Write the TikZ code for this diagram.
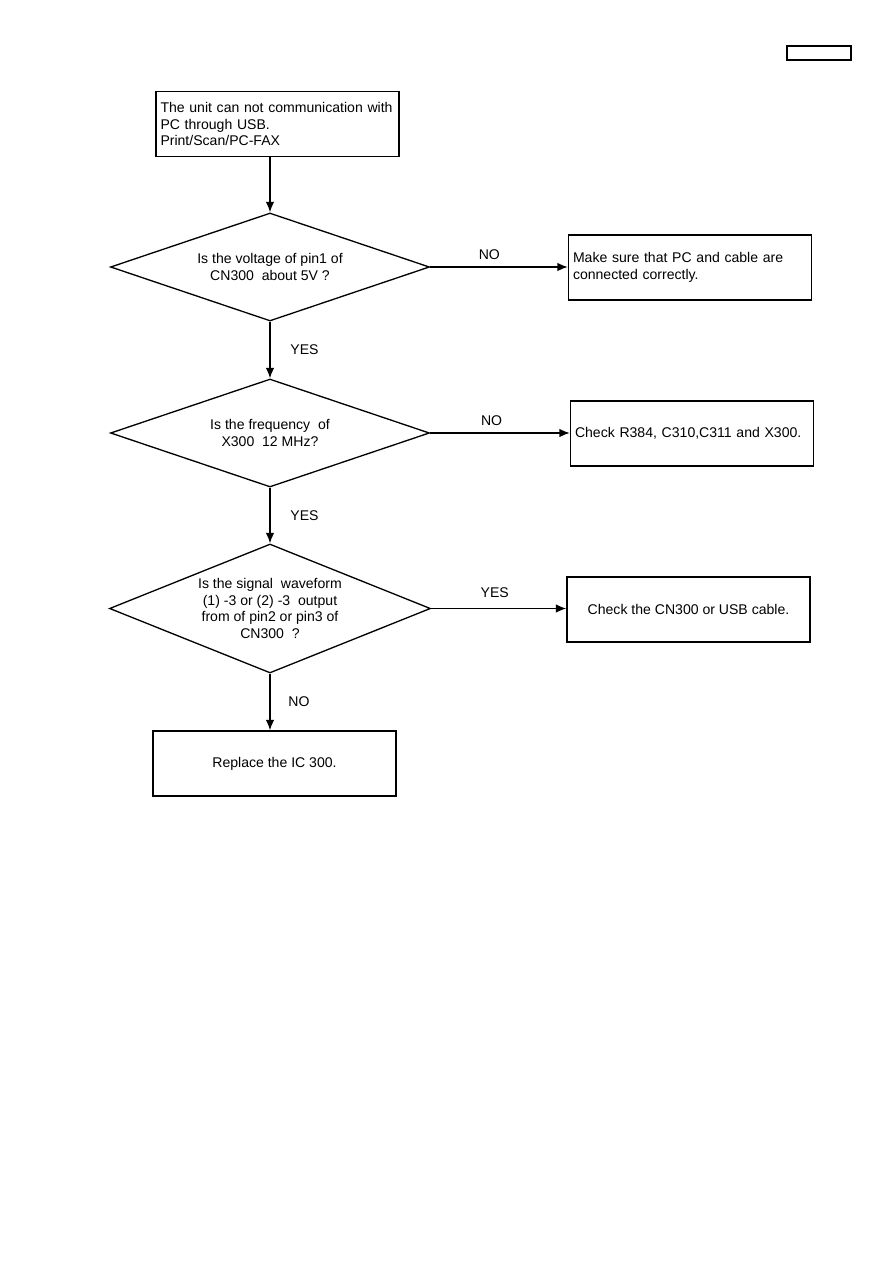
\documentclass[tikz,border=0pt]{standalone}
\usepackage{fontspec}
\setmainfont{Liberation Sans}
\usetikzlibrary{shapes.geometric, arrows.meta, positioning}
\tikzset{
    chart/.style={font=\fontsize{8}{9.4}\selectfont},
    chart box/.style={draw, line width=0.75pt, minimum width=48.6mm,
        minimum height=13mm, inner sep=0.7mm},
    chart test/.style={draw, diamond, aspect=2.5, line width=0.75pt,
        inner sep=0pt, align=center, minimum width=63.8mm, minimum height=21.6mm},
    chart arrow/.style={-{Latex[length=2.1mm,width=1.7mm]}, line width=0.75pt},
    chart label/.style={font=\fontsize{8}{9.4}\selectfont, inner sep=1pt},
}

\begin{document}
\begin{tikzpicture}[
    chart, x=0.2mm, y=-0.2mm,
    lefttext/.style={text width=46.8mm, align=left},
    midtext/.style={align=center}
  ]
    \useasboundingbox (0,0) rectangle (893,1263);

    \node[chart box, minimum width=12.8mm, minimum height=2.8mm] (tag) at (819,53) {};

    \node[chart box, lefttext] (start) at (277.5,124)
        {The unit can not communication with\\PC through USB.\\Print/Scan/PC-FAX};

    \node[chart test] (volt) at (270,267) {Is the voltage of pin1 of\\CN300\ \ about 5V ?};
    \node[chart box, lefttext] (pccable) at (690,267.5)
        {Make sure that PC and cable are\\connected correctly.};

    \node[chart test] (freq) at (270,433) {Is the frequency\ \ of\\X300\ \ 12 MHz?};
    \node[chart box, lefttext] (crystal) at (692,433.5)
        {Check R384, C310,C311 and X300.};

    \node[chart test, minimum width=64.2mm, minimum height=25.8mm] (signal) at (270,608.5)
        {Is the signal\ \ waveform\\(1) -3 or (2) -3\ \ output\\from of pin2 or pin3 of\\CN300\ \ ?};
    \node[chart box, midtext] (usbcable) at (688.5,609.5)
        {Check the CN300 or USB cable.};

    \node[chart box, midtext] (replace) at (274.5,763.5) {Replace the IC 300.};

    \draw[chart arrow] (start.south -| volt.north) -- (volt.north);
    \draw[chart arrow] (volt.east) -- node[chart label, above=3pt, pos=0.43] {NO} (volt.east -| pccable.west);
    \draw[chart arrow] (volt.south) -- node[chart label, right=3.6mm] {YES} (freq.north);
    \draw[chart arrow] (freq.east) -- node[chart label, above=3pt, pos=0.44] {NO} (freq.east -| crystal.west);
    \draw[chart arrow] (freq.south) -- node[chart label, right=3.6mm] {YES} (signal.north);
    \draw[chart arrow] (signal.east) -- node[chart label, above=5pt, pos=0.47] {YES} (signal.east -| usbcable.west);
    \draw[chart arrow] (signal.south) -- node[chart label, right=3.2mm] {NO} (signal.south |- replace.north);
  \end{tikzpicture}
\end{document}
